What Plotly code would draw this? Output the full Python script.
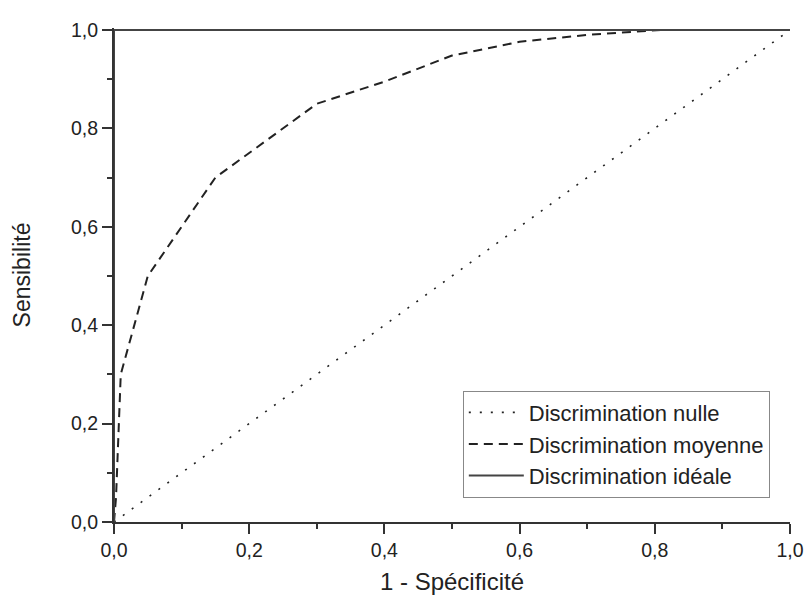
import plotly.graph_objects as go

# Data
null_x = [0.0, 1.0]
null_y = [0.0, 1.0]

mean_x = [0.0, 0.003, 0.01, 0.05, 0.15, 0.30, 0.40, 0.50, 0.60, 0.70, 0.81]
mean_y = [0.0, 0.05, 0.30, 0.50, 0.70, 0.85, 0.895, 0.948, 0.976, 0.99, 1.0]

ideal_x = [0.0, 0.0, 1.0]
ideal_y = [0.0, 1.0, 1.0]

names = ["Discrimination nulle", "Discrimination moyenne", "Discrimination idéale"]

FONT = "Liberation Sans, Arial, sans-serif"

fig = go.Figure()
fig.add_trace(go.Scatter(x=null_x, y=null_y, mode="lines", name=names[0],
                         line=dict(color="#222222", width=1.6, dash="2px,9px")))
fig.add_trace(go.Scatter(x=mean_x, y=mean_y, mode="lines", name=names[1],
                         line=dict(color="#222222", width=2, dash="9px,6px")))
fig.add_trace(go.Scatter(x=ideal_x, y=ideal_y, mode="lines", name=names[2],
                         line=dict(color="#444444", width=2)))

axis_common = dict(
    showgrid=False, zeroline=False, showline=True, linecolor="#333333", linewidth=2,
    ticks="outside", ticklen=10, tickwidth=2, tickcolor="#333333",
    tickformat=".1f", dtick=0.2, tick0=0,
    tickfont=dict(family=FONT, size=19.5, color="#222222"),
    minor=dict(ticks="outside", ticklen=5, tickwidth=2, tickcolor="#333333", dtick=0.1),
    automargin=False,
)

fig.update_layout(
    width=805, height=597,
    margin=dict(l=114, r=15, t=28, b=75),
    paper_bgcolor="white", plot_bgcolor="white",
    separators=", ",
    font=dict(family=FONT, color="#222222"),
    xaxis=dict(range=[0, 1.0], title=dict(text="1 - Spécificité", font=dict(family=FONT, size=24), standoff=13),
               **axis_common),
    yaxis=dict(range=[0, 1.004], title=dict(text="Sensibilité", font=dict(family=FONT, size=23), standoff=34),
               **axis_common),
    legend=dict(x=0.516, y=0.266, xanchor="left", yanchor="top",
                bordercolor="#888888", borderwidth=1, bgcolor="white",
                font=dict(family=FONT, size=22, color="#222222"),
                itemwidth=55, traceorder="normal"),
    showlegend=True,
)

fig.write_html("out.html", config={"displayModeBar": False},
               post_script="document.body.style.margin='0';document.body.style.overflow='hidden';")
